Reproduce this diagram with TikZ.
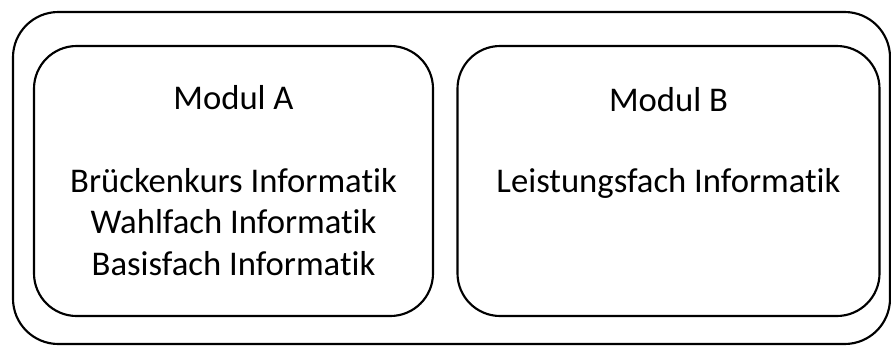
\documentclass[tikz,border=0pt]{standalone}
\usepackage{fontspec}
\setmainfont{Carlito}[Ligatures=NoCommon]
\usetikzlibrary{positioning}

\begin{document}
\begin{tikzpicture}[x=0.75pt, y=-0.75pt,
    frame/.style={draw, line width=1.6pt, rounded corners=34pt},
    modulbox/.style={draw, line width=1.6pt, rounded corners=32pt, minimum height=202.5pt},
    modultext/.style={anchor=base, align=center, font=\fontsize{26}{31.1}\selectfont}]
        \useasboundingbox (0,0) rectangle (891,347);
        \draw[frame] (13,12) rectangle (890,344);

        \node[modulbox, minimum width=299.25pt] (modA) at (233.5,181) {};
        \node[modulbox, minimum width=316.5pt] (modB) at (668.5,181) {};

        % base of a multi-line node sits on its last line
        \node[modultext] (titleA) at (233.5,109) {Modul A};
        \node[modultext] (listA) at (233.5,275) {Brückenkurs Informatik\\Wahlfach Informatik\\Basisfach Informatik};
        \node[modultext] (titleB) at (668.5,111) {Modul B};
        \node[modultext] (listB) at (668.5,192) {Leistungsfach Informatik};
    \end{tikzpicture}
\end{document}
